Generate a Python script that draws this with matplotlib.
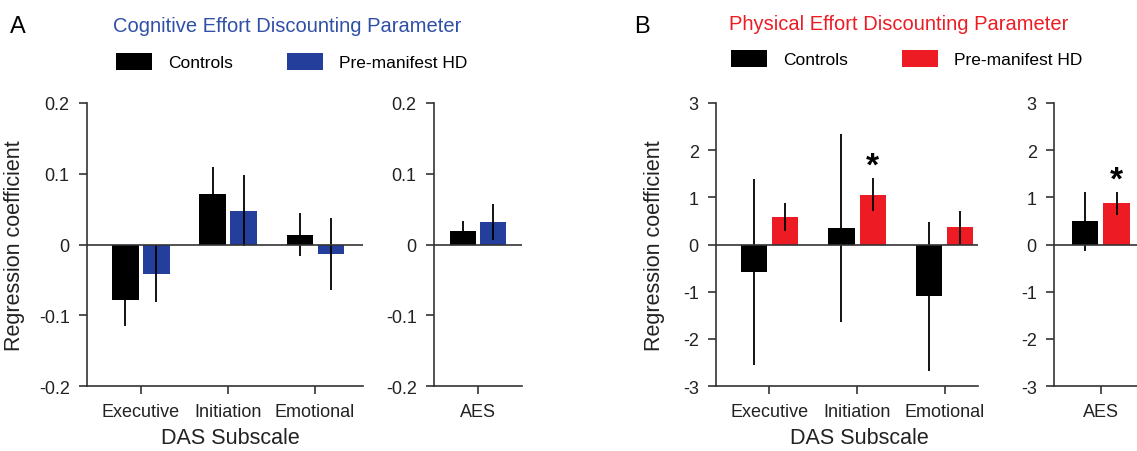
import numpy as np
import matplotlib
matplotlib.use("Agg")
import matplotlib.pyplot as plt
from matplotlib.patches import Patch

plt.rcParams['font.family'] = ['Liberation Sans', 'DejaVu Sans']

# --- data ---
categories = ["Executive", "Initiation", "Emotional"]

cog_ctrl = [-0.078, 0.071, 0.014]
cog_ctrl_err = [0.037, 0.038, 0.030]
cog_hd = [-0.041, 0.048, -0.014]
cog_hd_err = [0.040, 0.050, 0.051]

cog_aes_ctrl = [0.019]
cog_aes_ctrl_err = [0.014]
cog_aes_hd = [0.032]
cog_aes_hd_err = [0.025]

phys_ctrl = [-0.59, 0.35, -1.10]
phys_ctrl_err = [1.97, 2.00, 1.58]
phys_hd = [0.58, 1.06, 0.37]
phys_hd_err = [0.29, 0.36, 0.35]

phys_aes_ctrl = [0.49]
phys_aes_ctrl_err = [0.63]
phys_aes_hd = [0.87]
phys_aes_hd_err = [0.24]

BLUE = "#233f9b"
RED = "#ed1c24"
AXC = "#333333"
W, H = 1137, 452


def px_axes(fig, left, right, top=104, bottom=387):
    return fig.add_axes([left / W, 1 - bottom / H, (right - left) / W, (bottom - top) / H])


def draw_bars(ax, labels, ctrl, ctrl_err, hd, hd_err, color, ylim, yticks, ytlabels, xlim):
    x = np.arange(len(labels))
    off, bw = 0.178, 0.3
    ax.bar(x - off, ctrl, bw, color="black", zorder=2)
    ax.bar(x + off, hd, bw, color=color, zorder=2)
    ax.errorbar(x - off, ctrl, yerr=ctrl_err, fmt="none", ecolor="black", elinewidth=1.3, capsize=0, zorder=3)
    ax.errorbar(x + off, hd, yerr=hd_err, fmt="none", ecolor="black", elinewidth=1.3, capsize=0, zorder=3)
    ax.axhline(0, color=AXC, lw=1.2, zorder=4)
    ax.set_xlim(xlim)
    ax.set_ylim(ylim)
    ax.set_yticks(yticks)
    ax.set_yticklabels(ytlabels)
    ax.set_xticks(x)
    ax.set_xticklabels(labels)
    for s in ["top", "right"]:
        ax.spines[s].set_visible(False)
    for s in ["left", "bottom"]:
        ax.spines[s].set_color(AXC)
        ax.spines[s].set_linewidth(1.2)
    ax.tick_params(axis="both", colors=AXC, labelcolor="#222222", labelsize=13,
                   length=5.5, width=1.2, pad=7)
    return x, off


fig = plt.figure(figsize=(W / 100, H / 100), dpi=100)

cog_ticks = [-0.2, -0.1, 0, 0.1, 0.2]
cog_tl = ["-0.2", "-0.1", "0", "0.1", "0.2"]
phys_ticks = [-3, -2, -1, 0, 1, 2, 3]
phys_tl = ["-3", "-2", "-1", "0", "1", "2", "3"]

# panel A
axA = px_axes(fig, 87, 363)
draw_bars(axA, categories, cog_ctrl, cog_ctrl_err, cog_hd, cog_hd_err, BLUE,
          (-0.2, 0.2), cog_ticks, cog_tl, (-0.62, 2.55))
axA.set_ylabel("Regression coefficient", fontsize=15.5, color="#222222")
axA.yaxis.set_label_coords(-0.225, 0.5)
axA.set_xlabel("DAS Subscale", fontsize=15.5, color="#222222")
axA.xaxis.set_label_coords(0.518, -0.145)

axA2 = px_axes(fig, 434, 522)
draw_bars(axA2, ["AES"], cog_aes_ctrl, cog_aes_ctrl_err, cog_aes_hd, cog_aes_hd_err, BLUE,
          (-0.2, 0.2), cog_ticks, cog_tl, (-0.51, 0.51))

# panel B
axB = px_axes(fig, 716, 978)
xb, offb = draw_bars(axB, categories, phys_ctrl, phys_ctrl_err, phys_hd, phys_hd_err, RED,
                     (-3, 3), phys_ticks, phys_tl, (-0.61, 2.38))
axB.set_ylabel("Regression coefficient", fontsize=15.5, color="#222222")
axB.yaxis.set_label_coords(-0.195, 0.5)
axB.set_xlabel("DAS Subscale", fontsize=15.5, color="#222222")
axB.xaxis.set_label_coords(0.546, -0.145)
axB.text(xb[1] + offb, phys_hd[1] + phys_hd_err[1] + 0.25, "*", ha="center", va="center",
         fontsize=24, fontweight="bold")

axB2 = px_axes(fig, 1054, 1137)
xb2, offb2 = draw_bars(axB2, ["AES"], phys_aes_ctrl, phys_aes_ctrl_err, phys_aes_hd, phys_aes_hd_err, RED,
                       (-3, 3), phys_ticks, phys_tl, (-0.53, 0.41))
axB2.text(xb2[0] + offb2, phys_aes_hd[0] + phys_aes_hd_err[0] + 0.25, "*", ha="center", va="center",
          fontsize=24, fontweight="bold")

# titles, panel letters, legends
fig.text(10 / W, 1 - 27 / H, "A", fontsize=17, va="center", ha="left")
fig.text(634 / W, 1 - 27 / H, "B", fontsize=17, va="center", ha="left")
fig.text(287 / W, 1 - 26 / H, "Cognitive Effort Discounting Parameter", fontsize=14.5,
         color="#2f4fa8", ha="center", va="center")
fig.text(899 / W, 1 - 24 / H, "Physical Effort Discounting Parameter", fontsize=14.5,
         color=RED, ha="center", va="center")

for anchor_x, anchor_y, col in [(116, 54, BLUE), (731, 51, RED)]:
    handles = [Patch(facecolor="black", edgecolor="none", label="Controls"),
               Patch(facecolor=col, edgecolor="none", label="Pre-manifest HD")]
    fig.legend(handles=handles, loc="upper left", bbox_to_anchor=(anchor_x / W, 1 - anchor_y / H),
               ncol=2, frameon=False, fontsize=12.5, borderpad=0, borderaxespad=0,
               handlelength=2.07, handleheight=1.15, handletextpad=0.92, columnspacing=3.1)

fig.savefig("out.png", dpi=100)
